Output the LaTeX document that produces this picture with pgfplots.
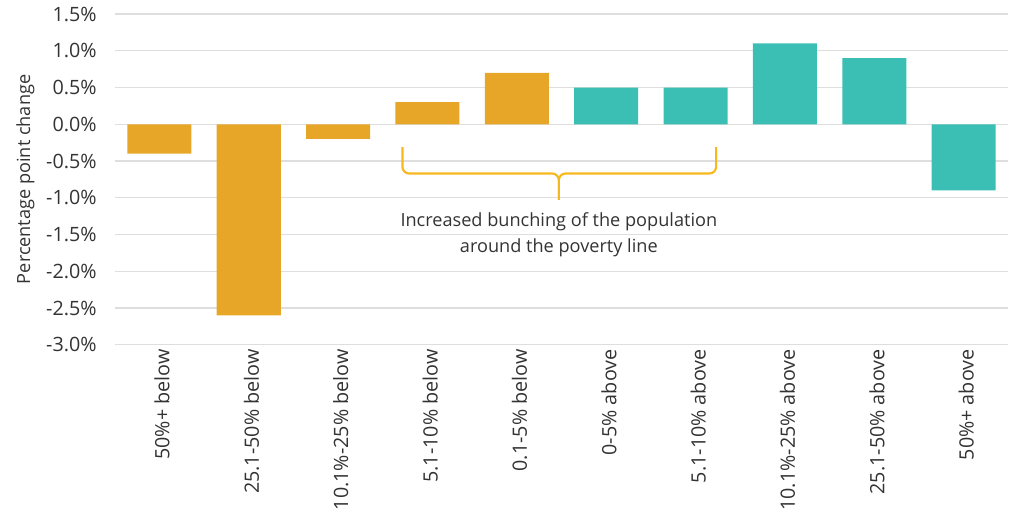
\documentclass[border=0pt]{standalone}
\usepackage{pgfplots}
\pgfplotsset{compat=1.18}
\usepackage{fontspec}
\setmainfont{Open Sans}
\definecolor{barorange}{HTML}{E8A628}
\definecolor{barteal}{HTML}{3BBFB5}
\definecolor{bracecol}{HTML}{F7B81E}
\definecolor{txt}{HTML}{333333}
\definecolor{gridc}{HTML}{DEDEDE}
\begin{document}
\begin{tikzpicture}
\begin{axis}[
  scale only axis,
  width=670pt, height=248pt,
  ymin=-3, ymax=1.5,
  xmin=-0.5, xmax=9.5,
  ytick={-3,-2.5,...,1.5},
  xtick={0,...,9},
  xticklabels={50\%+ below, 25.1-50\% below, 10.1\%-25\% below, 5.1-10\% below, 0.1-5\% below,
               0-5\% above, 5.1-10\% above, 10.1\%-25\% above, 25.1-50\% above, 50\%+ above},
  xticklabel style={rotate=90, anchor=east, font=\fontsize{14.8}{16}\selectfont, text=txt, yshift=-2pt},
  yticklabel style={font=\fontsize{14.8}{16}\selectfont, text=txt, xshift=-10pt},
  yticklabel={\pgfmathprintnumber[fixed,fixed zerofill,precision=1]{\tick}\%},
  /pgf/number format/assume math mode=true,
  ylabel={Percentage point change},
  ylabel style={font=\fontsize{13.6}{16}\selectfont, text=txt, yshift=2pt},
  ymajorgrids,
  grid style={gridc, line width=1pt},
  axis line style={draw=none},
  major tick length=0pt,
  ybar, bar width=48pt,
]
\addplot[fill=barorange, draw=none, bar shift=0pt] coordinates {
  (0,-0.4) (1,-2.6) (2,-0.2) (3,0.3) (4,0.7)
};
\addplot[fill=barteal, draw=none, bar shift=0pt] coordinates {
  (5,0.5) (6,0.5) (7,1.1) (8,0.9) (9,-0.9)
};
\draw[bracecol, line width=1.6pt, rounded corners=5pt]
  (axis cs:2.72,-0.31) -- (axis cs:2.72,-0.67) -- (axis cs:4.47,-0.67) -- (axis cs:4.47,-1.03);
\draw[bracecol, line width=1.6pt, rounded corners=5pt]
  (axis cs:6.23,-0.31) -- (axis cs:6.23,-0.67) -- (axis cs:4.47,-0.67) -- (axis cs:4.47,-1.03);
\node[align=center, text=txt, font=\fontsize{13.6}{19.5}\selectfont, anchor=north]
  at (axis cs:4.47,-1.14) {Increased bunching of the population\\around the poverty line};
\end{axis}
\path ([xshift=-86pt]current axis.south west);
\path ([xshift=2pt]current axis.north east);
\path ([yshift=10.5pt]current axis.north west);
\path ([yshift=-122pt]current axis.south west);
\end{tikzpicture}
\end{document}
